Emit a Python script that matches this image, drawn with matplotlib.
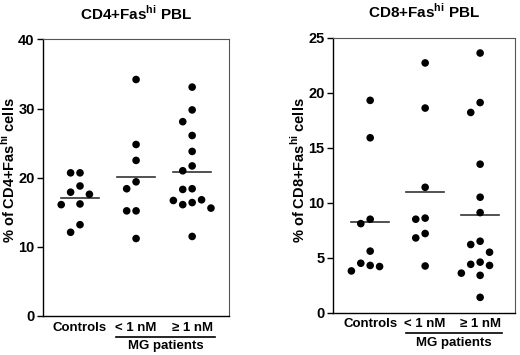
#!/usr/bin/env python3
"""Column scatter of Fas-hi PBL in controls and MG patients."""

import matplotlib
matplotlib.use("Agg")
import matplotlib.pyplot as plt
import numpy as np

plt.rcParams['font.family'] = ['Liberation Sans', 'DejaVu Sans']
plt.rcParams['mathtext.fontset'] = 'custom'
plt.rcParams['mathtext.rm'] = 'Liberation Sans'
plt.rcParams['mathtext.bf'] = 'Liberation Sans:bold'

groups = ['Controls', '< 1 nM', '≥ 1 nM']

cd4_controls = [20.7, 20.7, 18.8, 17.9, 17.6, 16.2, 16.1, 13.2, 12.1]
cd4_low = [34.2, 24.8, 22.5, 19.4, 18.4, 15.2, 15.2, 11.2]
cd4_high = [33.1, 29.8, 28.1, 26.1, 23.8, 21.7, 21.0, 18.4, 18.3,
            16.8, 16.7, 16.4, 16.1, 15.6, 11.5]

cd8_controls = [19.3, 15.9, 8.5, 8.1, 5.6, 4.5, 4.3, 4.2, 3.8]
cd8_low = [22.7, 18.6, 11.4, 8.6, 8.5, 7.2, 6.8, 4.25]
cd8_high = [23.6, 19.1, 18.2, 13.5, 10.5, 9.1, 6.5, 6.2, 5.5,
            4.6, 4.4, 4.3, 3.6, 3.4, 1.4]

DOT_PX = 7.6      # marker diameter in pixels
SLOT_PX = 9.4     # horizontal step between neighbouring dots
GAP_PX = 12.5     # vertical distance under which dots are pushed sideways


def swarm_offsets(ax, values):
    """Greedy column scatter: shift a dot sideways when it would overlap."""
    y_px = ax.transData.transform(np.c_[np.zeros(len(values)), values])[:, 1]
    placed = []
    slots = []
    for y in y_px:
        for s in (0, -1, 1, -2, 2, -3, 3):
            if all(not (ps == s and abs(py - y) < GAP_PX) for ps, py in placed):
                break
        placed.append((s, y))
        slots.append(s)
    return np.array(slots)


def draw_panel(fig, rect, data, ylim, yticks, title, ylabel, xlim, label_y):
    ax = fig.add_axes(rect)
    ax.set_xlim(*xlim)
    ax.set_ylim(*ylim)
    fig.canvas.draw()
    px_per_x = ax.transData.transform([(1, 0)])[0, 0] - ax.transData.transform([(0, 0)])[0, 0]
    slot = SLOT_PX / px_per_x
    for i, vals in enumerate(data):
        offs = swarm_offsets(ax, vals)
        ax.scatter(i + offs * slot, vals, s=(DOT_PX * 72 / 100) ** 2,
                   color='black', edgecolors='none', zorder=3)
        m = np.mean(vals)
        ax.plot([i - 0.34, i + 0.34], [m, m], color='#333333', lw=1.2, zorder=2)

    ax.set_yticks(yticks)
    ax.set_yticklabels([str(t) for t in yticks], fontsize=10.5, fontweight='bold')
    ax.set_xticks(range(len(groups)))
    ax.set_xticklabels(groups, fontsize=9.5, fontweight='bold')
    ax.tick_params(axis='x', length=0, pad=4)
    ax.tick_params(axis='y', length=4, width=1, direction='out', pad=2)
    for side in ('left', 'bottom'):
        ax.spines[side].set_linewidth(1.0)
        ax.spines[side].set_color('black')
    for side in ('top', 'right'):
        ax.spines[side].set_linewidth(0.8)
        ax.spines[side].set_color('#555555')
    ax.set_title(title, fontsize=11, fontweight='bold', pad=14)
    ax.set_ylabel(ylabel, fontsize=10.5, fontweight='bold')
    ax.yaxis.set_label_coords(-25 / (rect[2] * fig.bbox.width), label_y)

    # bracket under the two patient groups
    x0 = ax.transData.transform([(0.65, 0)])[0, 0] / fig.bbox.width
    x1 = ax.transData.transform([(2.4, 0)])[0, 0] / fig.bbox.width
    yb = rect[1] - 0.058
    fig.add_artist(plt.Line2D([x0, x1], [yb, yb], color='black', lw=1.2))
    fig.text((x0 + x1) / 2, yb - 0.01, 'MG patients', ha='center', va='top',
             fontsize=9.5, fontweight='bold')
    return ax


fig = plt.figure(figsize=(5.2, 3.55), dpi=100)

draw_panel(fig, [0.0827, 0.110, 0.358, 0.779],
           [cd4_controls, cd4_low, cd4_high], (0, 40), [0, 10, 20, 30, 40],
           r'CD4+Fas$^{\mathbf{hi}}$ PBL', r'% of CD4+Fas$^{\mathbf{hi}}$ cells',
           (-0.66, 2.66), 0.527)
draw_panel(fig, [0.640, 0.119, 0.351, 0.775],
           [cd8_controls, cd8_low, cd8_high], (0, 25), [0, 5, 10, 15, 20, 25],
           r'CD8+Fas$^{\mathbf{hi}}$ PBL', r'% of CD8+Fas$^{\mathbf{hi}}$ cells',
           (-0.68, 2.64), 0.519)

fig.savefig('out.png', dpi=100)
